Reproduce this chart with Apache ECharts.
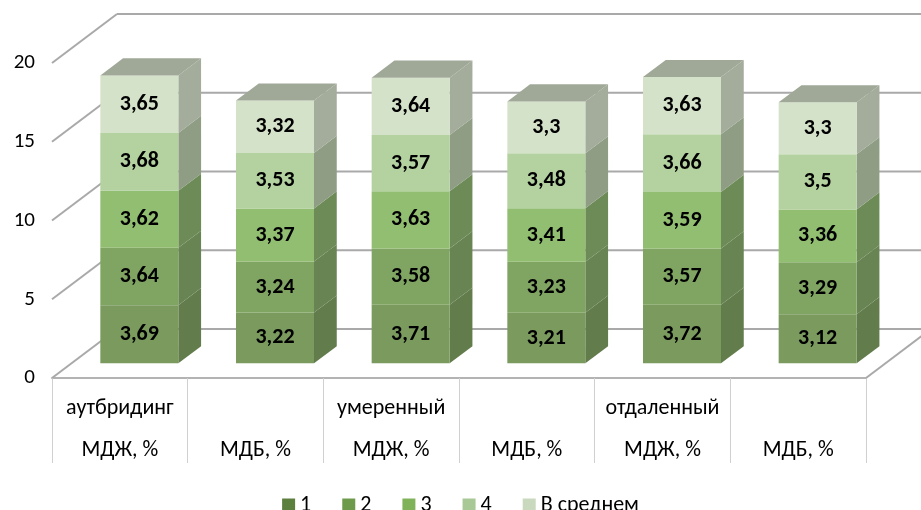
<!DOCTYPE html>
<html>
<head>
<meta charset="utf-8">
<script src="https://cdn.jsdelivr.net/npm/echarts@6/dist/echarts.min.js"></script>
<style>
  html, body { margin: 0; padding: 0; background: #fff; }
  #chart { width: 921px; height: 510px; }
</style>
</head>
<body>
<div id="chart"></div>
<script>
// подписи оси X: группа (верхняя строка) и показатель (нижняя строка)
const groups = ['аутбридинг', '', 'умеренный', '', 'отдаленный', '']
const measures = ['МДЖ, %', 'МДБ, %', 'МДЖ, %', 'МДБ, %', 'МДЖ, %', 'МДБ, %']
const yTicks = [0, 5, 10, 15, 20]

const seriesNames = ['1', '2', '3', '4', 'В среднем']
const s1 = [3.69, 3.22, 3.71, 3.21, 3.72, 3.12]
const s2 = [3.64, 3.24, 3.58, 3.23, 3.57, 3.29]
const s3 = [3.62, 3.37, 3.63, 3.41, 3.59, 3.36]
const s4 = [3.68, 3.53, 3.57, 3.48, 3.66, 3.5]
const s5 = [3.65, 3.32, 3.64, 3.3, 3.63, 3.3]
const values = [s1, s2, s3, s4, s5]

// цвета: легенда, передняя грань, боковая грань
const legendColors = ['#5b7f3d', '#6e9a4c', '#80b25a', '#a8c895', '#c9d9bd']
const frontColors = ['#7a9a5e', '#80a563', '#92be71', '#b4d1a0', '#d5e2ca']
const sideColors = ['#627c4c', '#678452', '#6d8b56', '#8e9d84', '#a4ac9c']
const topColor = '#a0a897'

const FONT = "Carlito, Calibri, 'Open Sans', sans-serif"
const DEPTH = [65, -49]      // глубина "пола" в пикселях
const FRONT = 0.3, BACK = 0.65
const BAR_RATIO = 0.575

function fmt(v) {
  return String(v).replace('.', ',')
}

// накопление для стека
const stacked = []
const base = measures.map(() => 0)
values.forEach((arr, k) => {
  stacked.push(arr.map((v, i) => {
    const lo = base[i]
    base[i] += v
    return [i, lo, base[i], v]
  }))
})

function renderWalls(params, api) {
  const v = api.value(1)
  const bw = api.size([1, 0])[0]
  const p0 = api.coord([0, v])
  const pN = api.coord([measures.length - 1, v])
  const left = p0[0] - bw / 2
  const right = pN[0] + bw / 2
  const y = p0[1]
  const style = { stroke: '#a9a9a9', lineWidth: 2 }
  const children = [
    { type: 'line', shape: { x1: left, y1: y, x2: left + DEPTH[0], y2: y + DEPTH[1] }, style },
    { type: 'line', shape: { x1: left + DEPTH[0], y1: y + DEPTH[1], x2: right + DEPTH[0], y2: y + DEPTH[1] }, style }
  ]
  if (v === 0) {
    children.push({ type: 'line', shape: { x1: right, y1: y, x2: right + DEPTH[0], y2: y + DEPTH[1] }, style })
  }
  return { type: 'group', children }
}

function makeRenderBox(k) {
  return function (params, api) {
    const i = api.value(0), lo = api.value(1), hi = api.value(2), v = api.value(3)
    const bw = api.size([1, 0])[0]
    const c0 = api.coord([i, lo]), c1 = api.coord([i, hi])
    const w = bw * BAR_RATIO
    const fx = c0[0] - w / 2 + DEPTH[0] * FRONT
    const fy0 = c0[1] + DEPTH[1] * FRONT
    const fy1 = c1[1] + DEPTH[1] * FRONT
    const sx = DEPTH[0] * (BACK - FRONT), sy = DEPTH[1] * (BACK - FRONT)
    const children = [
      {
        type: 'polygon',
        shape: { points: [[fx + w, fy0], [fx + w + sx, fy0 + sy], [fx + w + sx, fy1 + sy], [fx + w, fy1]] },
        style: { fill: sideColors[k] }
      },
      {
        type: 'rect',
        shape: { x: fx, y: fy1, width: w, height: fy0 - fy1 },
        style: { fill: frontColors[k] }
      }
    ]
    if (k === values.length - 1) {
      children.push({
        type: 'polygon',
        shape: { points: [[fx, fy1], [fx + w, fy1], [fx + w + sx, fy1 + sy], [fx + sx, fy1 + sy]] },
        style: { fill: topColor }
      })
    }
    children.push({
      type: 'text',
      style: {
        text: fmt(v), x: fx + w / 2, y: (fy0 + fy1) / 2,
        align: 'center', verticalAlign: 'middle',
        fill: '#000', font: 'bold 22px ' + FONT
      }
    })
    return { type: 'group', children }
  }
}

const chart = echarts.init(document.getElementById('chart'))

const series = [{
  type: 'custom',
  name: 'walls',
  coordinateSystem: 'cartesian2d',
  clip: false,
  silent: true,
  z: 1,
  renderItem: renderWalls,
  data: yTicks.map(v => [0, v])
}]
values.forEach((arr, k) => {
  series.push({
    type: 'custom',
    name: seriesNames[k],
    coordinateSystem: 'cartesian2d',
    clip: false,
    z: 2,
    itemStyle: { color: legendColors[k] },
    renderItem: makeRenderBox(k),
    encode: { x: 0, y: [1, 2] },
    data: stacked[k]
  })
})

chart.setOption({
  animation: false,
  backgroundColor: '#fff',
  grid: { left: 52, right: 55, top: 63, bottom: 132 },
  legend: {
    data: seriesNames,
    top: 489,
    left: 'center',
    icon: 'rect',
    itemWidth: 13,
    itemHeight: 13,
    itemGap: 31,
    textStyle: { fontSize: 22, color: '#000', fontFamily: FONT }
  },
  xAxis: {
    type: 'category',
    data: measures.map((m, i) => String(i)),
    axisLine: { show: true, lineStyle: { color: '#b3b3b3', width: 2 } },
    axisTick: { show: true, interval: 0, length: 85, lineStyle: { color: '#d0d0d0', width: 1 } },
    axisLabel: {
      interval: 0,
      margin: 9,
      lineHeight: 42,
      fontSize: 22,
      color: '#000',
      fontFamily: FONT,
      formatter: (val, idx) => groups[idx] + '\n' + measures[idx]
    },
    splitLine: { show: false }
  },
  yAxis: {
    type: 'value',
    min: 0,
    max: 20,
    interval: 5,
    axisLine: { show: false },
    axisTick: { show: false },
    splitLine: { show: false },
    axisLabel: { margin: 17, fontSize: 21, color: '#000', fontFamily: FONT }
  },
  series: series
})
</script>
</body>
</html>
